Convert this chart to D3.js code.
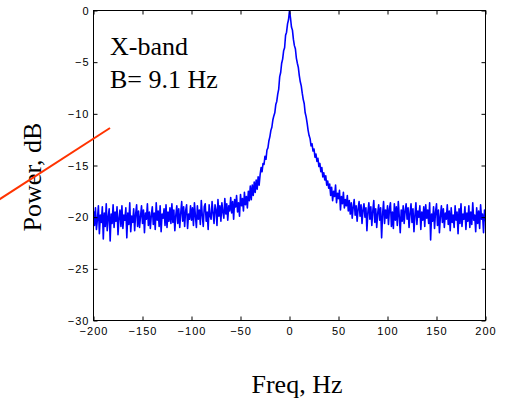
<!DOCTYPE html>
<html>
<head>
<meta charset="utf-8">
<script src="https://cdn.jsdelivr.net/npm/d3@7"></script>
<style>
  body { margin: 0; background: #fff; }
  svg { display: block; }
  .tick text { font-family: "Liberation Sans", Arial, sans-serif; font-size: 11px; letter-spacing: 1px; fill: #000; }
  .lbl { font-family: "Liberation Serif", "Times New Roman", serif; font-size: 26px; fill: #000; }
</style>
</head>
<body>
<svg id="viz" width="508" height="401"></svg>
<script>
// spectrum at 1 Hz steps from -200 to 200 Hz
var freqStart = -200, freqStep = 1;
var power = [
  -19.4,-20.8,-19.1,-21.2,-20.2,-18.9,-21.6,-19.8,-20.5,-19.0,-22.1,-19.6,-20.9,-18.7,-21.3,-20.0,-19.2,-22.3,-19.7,-20.6,
  -18.8,-21.0,-19.5,-20.4,-19.0,-21.7,-20.1,-19.3,-20.9,-18.9,-21.1,-19.8,-20.3,-19.1,-22.0,-19.6,-20.7,-18.6,-21.4,-19.9,
  -20.5,-19.2,-21.3,-19.7,-18.8,-20.9,-19.4,-21.0,-19.9,-18.9,-20.6,-19.3,-21.5,-19.6,-20.2,-18.7,-20.8,-19.5,-21.1,-19.8,
  -19.0,-20.7,-19.6,-21.2,-18.6,-20.3,-19.4,-20.9,-18.9,-21.4,-19.7,-20.1,-19.2,-20.8,-18.8,-21.0,-19.5,-20.4,-19.1,-20.6,
  -18.7,-20.5,-19.3,-21.3,-19.8,-18.9,-20.6,-19.2,-21.0,-19.6,-18.5,-20.4,-19.0,-20.9,-19.4,-18.8,-21.1,-19.7,-20.2,-18.9,
  -20.3,-19.1,-20.8,-18.6,-19.9,-21.0,-18.9,-20.2,-19.3,-20.7,-18.4,-19.8,-20.9,-19.0,-18.7,-20.4,-19.5,-21.2,-18.8,-19.9,
  -20.2,-18.5,-19.6,-20.6,-18.8,-19.3,-20.8,-18.3,-19.9,-18.9,-20.4,-18.6,-19.5,-20.1,-18.2,-19.7,-18.7,-20.3,-18.9,-19.4,
  -18.1,-19.6,-18.5,-20.2,-18.3,-19.0,-17.9,-19.5,-18.6,-19.9,-17.8,-18.9,-18.2,-19.4,-17.6,-18.8,-18.0,-19.1,-17.5,-18.4,
  -17.0,-18.3,-16.9,-17.9,-16.6,-17.6,-16.4,-17.3,-16.1,-16.9,
  -15.9,-15.2,-15.6,-14.8,-14.9,-14.1,-14.4,-13.5,-13.3,-12.6,
  -12.2,-11.6,-11.3,-10.6,-10.2,-9.9,-9.1,-8.8,-8.1,-7.6,
  -6.4,-6.0,-5.1,-4.7,-3.9,-3.6,-2.4,-2.1,-1.3,-0.9,
  0,
  -0.7,-1.6,-1.9,-2.8,-3.4,-3.7,-4.6,-5.1,-5.5,-6.3,
  -6.9,-7.3,-8.0,-8.6,-9.0,-9.9,-10.3,-10.9,-11.6,-12.1,
  -12.4,-13.1,-12.9,-13.6,-13.4,-14.2,-13.9,-14.6,-14.3,-15.1,
  -14.8,-15.6,-15.2,-16.1,-15.7,-16.4,-16.0,-16.9,-16.5,-17.2,
  -16.8,-17.9,-17.1,-18.4,-17.5,-18.0,-16.9,-18.6,-17.7,-18.2,-17.4,-19.3,-18.0,-18.7,-17.6,-19.1,-18.3,-18.9,-17.9,-19.4,
  -18.4,-19.7,-18.6,-20.1,-19.0,-18.3,-19.8,-18.9,-20.4,-19.2,-18.5,-19.9,-18.8,-20.6,-19.3,-18.7,-20.0,-19.1,-21.3,-19.5,
  -18.6,-20.2,-19.0,-20.8,-19.4,-18.4,-20.5,-19.2,-21.0,-19.6,-18.8,-20.3,-19.1,-22.0,-19.7,-18.5,-20.6,-19.3,-20.1,-18.9,
  -20.7,-19.2,-18.6,-20.9,-19.5,-21.1,-18.7,-20.3,-19.0,-20.8,-18.5,-19.9,-21.5,-19.3,-20.4,-18.9,-20.6,-19.4,-18.7,-20.2,
  -19.1,-21.0,-19.6,-18.7,-20.5,-19.2,-21.4,-19.8,-18.6,-20.7,-19.4,-20.0,-18.9,-21.2,-19.5,-20.3,-19.0,-20.9,-18.8,-20.1,
  -19.3,-20.6,-18.6,-22.2,-19.7,-20.4,-19.0,-21.1,-19.5,-18.7,-20.8,-19.3,-21.5,-19.9,-18.9,-20.5,-19.2,-21.0,-19.6,-20.2,
  -18.8,-20.7,-19.4,-21.3,-19.1,-20.5,-19.8,-21.0,-18.9,-20.3,-19.5,-21.6,-19.2,-20.6,-18.7,-20.9,-19.7,-20.2,-19.0,-21.2,
  -19.6,-20.4,-18.9,-21.0,-19.5,-20.7,-18.6,-20.3,-19.8,-21.4,-19.1,-20.6,-19.4,-21.1,-18.8,-20.2,-19.7,-21.5,-19.3,-20.4
];
var xTicks = [-200, -150, -100, -50, 0, 50, 100, 150, 200];
var yTicks = [-30, -25, -20, -15, -10, -5, 0];
var noteLines = ["X-band", "B= 9.1 Hz"];
var xTitle = "Freq, Hz";
var yTitle = "Power, dB";

var svg = d3.select("#viz");

var x = d3.scaleLinear().domain([-200, 200]).range([93.5, 485.5]);
var y = d3.scaleLinear().domain([-30, 0]).range([320.5, 10.5]);

svg.append("defs").append("clipPath").attr("id", "clip")
  .append("rect").attr("x", 93.5).attr("y", 10.5).attr("width", 392).attr("height", 310);

var line = d3.line()
  .x((d, i) => x(freqStart + i * freqStep))
  .y(d => y(d));

svg.append("path")
  .datum(power)
  .attr("clip-path", "url(#clip)")
  .attr("fill", "none")
  .attr("stroke", "#0000ff")
  .attr("stroke-width", 1.6)
  .attr("stroke-linejoin", "round")
  .attr("d", line);

// axes, ticks pointing inward on all four sides
svg.append("g")
  .attr("transform", "translate(0,320.5)")
  .call(d3.axisBottom(x).tickValues(xTicks).tickSizeInner(-4).tickSizeOuter(0).tickPadding(7));
svg.append("g")
  .attr("transform", "translate(93.5,0)")
  .call(d3.axisLeft(y).tickValues(yTicks).tickSizeInner(-4).tickSizeOuter(0).tickPadding(4));
svg.append("g")
  .attr("transform", "translate(0,10.5)")
  .call(d3.axisTop(x).tickValues(xTicks).tickSizeInner(-4).tickSizeOuter(0).tickFormat(""));
svg.append("g")
  .attr("transform", "translate(485.5,0)")
  .call(d3.axisRight(y).tickValues(yTicks).tickSizeInner(-4).tickSizeOuter(0).tickFormat(""));
svg.selectAll(".domain").remove();
svg.selectAll(".tick line").attr("stroke", "#000");
svg.selectAll(".tick text").attr("font-family", null).attr("font-size", null);

svg.append("rect")
  .attr("x", 93.5).attr("y", 10.5).attr("width", 392).attr("height", 310)
  .attr("fill", "none").attr("stroke", "#000");

// labels
svg.selectAll(".note")
  .data(noteLines)
  .enter().append("text")
  .attr("class", "lbl note")
  .attr("x", 110)
  .attr("y", (d, i) => 55 + i * 33)
  .text(d => d);

svg.append("text")
  .attr("class", "lbl")
  .attr("x", 297).attr("y", 393)
  .attr("text-anchor", "middle")
  .text(xTitle);

svg.append("text")
  .attr("class", "lbl")
  .attr("transform", "translate(41,177) rotate(-90)")
  .attr("text-anchor", "middle")
  .text(yTitle);

// red annotation stroke across the y label
svg.append("line")
  .attr("x1", -10).attr("y1", 205.5)
  .attr("x2", 110).attr("y2", 128)
  .attr("stroke", "#ff3300")
  .attr("stroke-width", 2);
</script>
</body>
</html>
